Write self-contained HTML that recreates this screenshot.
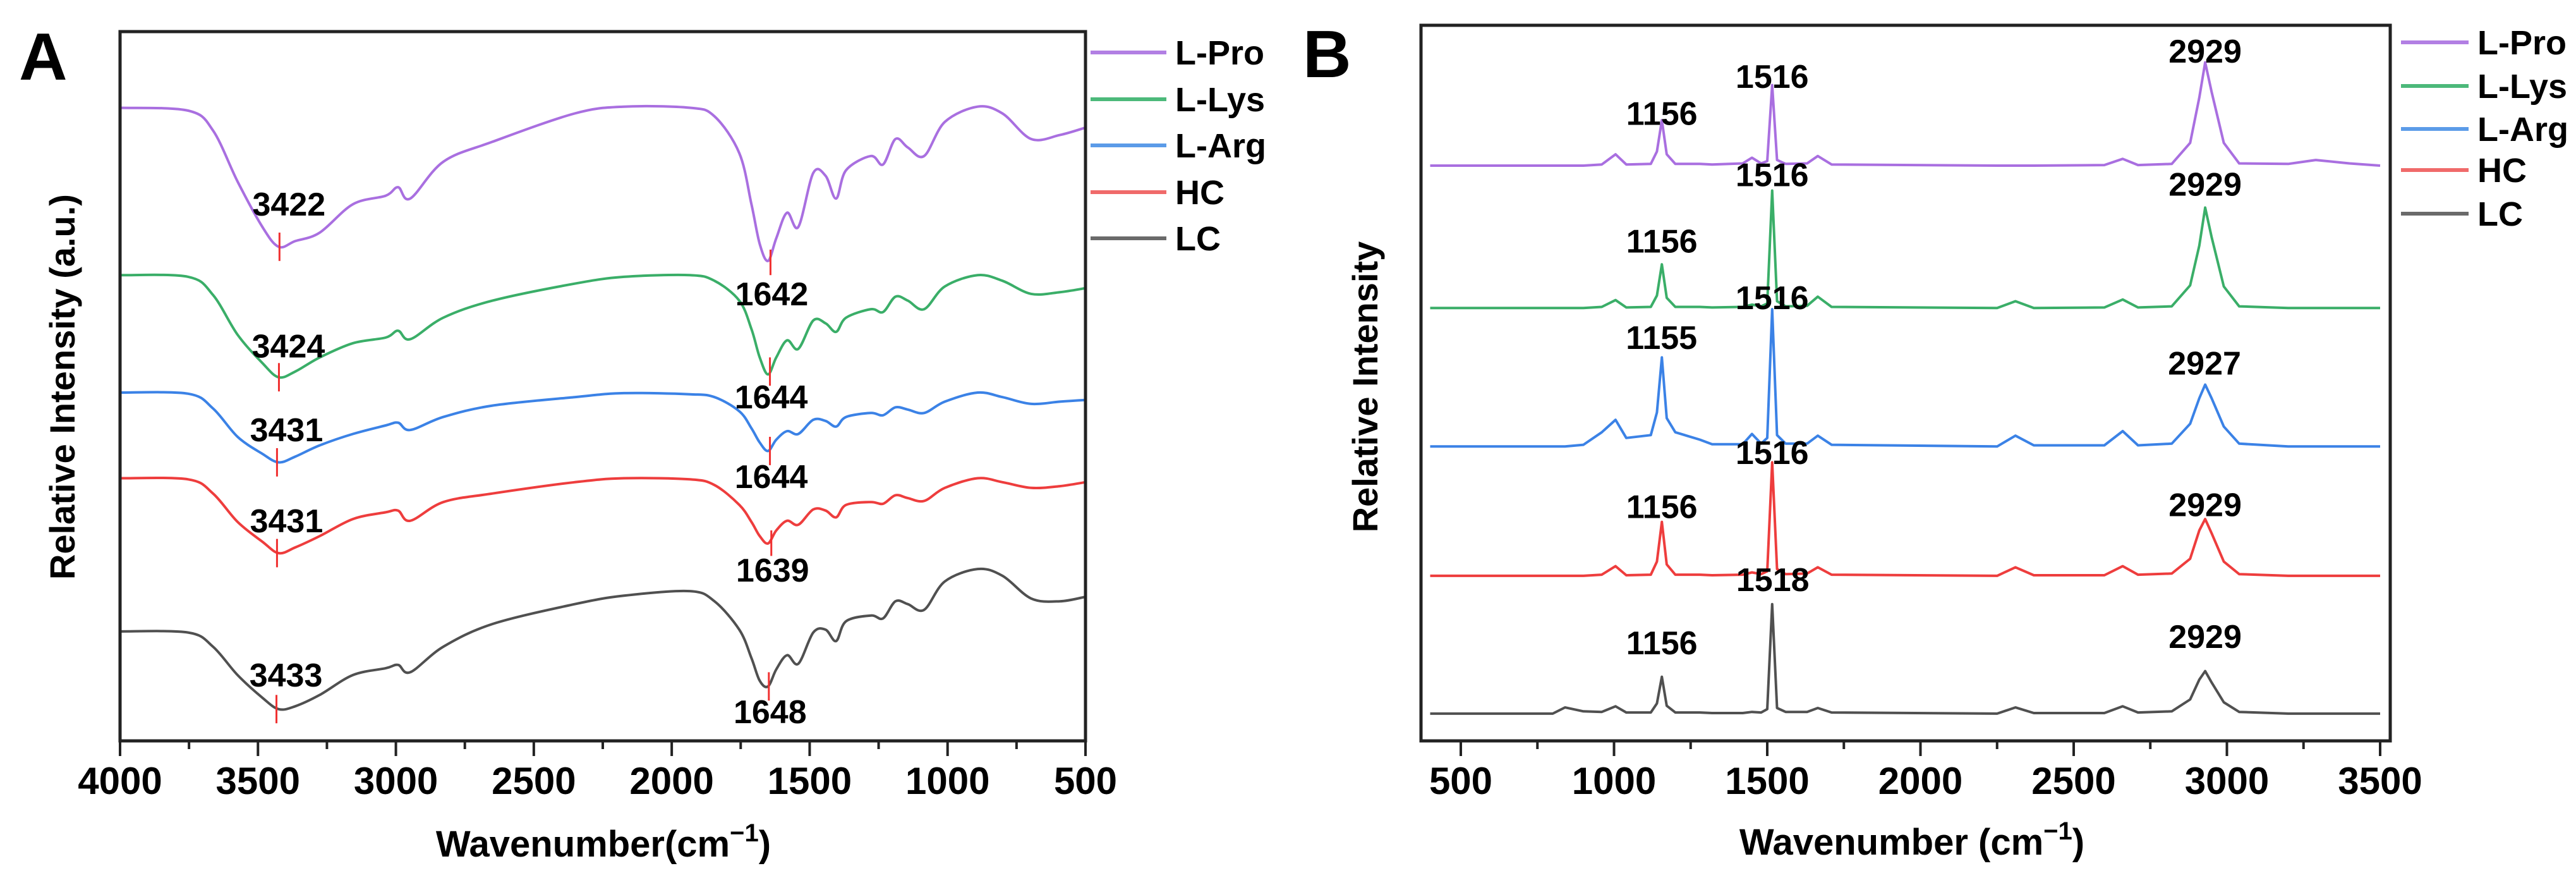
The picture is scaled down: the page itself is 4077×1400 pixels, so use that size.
<!DOCTYPE html>
<html><head><meta charset="utf-8">
<style>
html,body{margin:0;padding:0;background:#fff;}
svg{display:block;font-family:"Liberation Sans",Arial,sans-serif;}
</style></head>
<body>
<svg id="fig" width="4077" height="1400" viewBox="0 0 4077 1400" xmlns="http://www.w3.org/2000/svg">
</svg>
<script>
// ---------- Panel A data (FTIR) ----------
const seriesNames = ["L-Pro","L-Lys","L-Arg","HC","LC"];
const seriesKeys = ["l-pro","l-lys","l-arg","hc","lc"];
const seriesColors = ["#a96fe0","#3aae68","#3b82e6","#ee3d3d","#505050"];
const legendColors = ["#b27fe3","#4cb97a","#5b9be8","#f06a6a","#6a6a6a"];
const ftirWavenumbers = [4000,3753,3663,3574,3484,3425,3365,3276,3156,3037,2992,2948,2828,2650,2352,2173,1934,1845,1755,1711,1681,1651,1621,1582,1541,1487,1442,1404,1368,1278,1234,1189,1144,1085,1010,891,801,697,593,500];
const ftirLPro = [1120,1115,1080,990,910,875,885,900,950,965,980,960,1025,1060,1110,1122,1120,1105,1040,950,880,850,890,935,910,1005,1000,960,1010,1035,1020,1065,1050,1035,1095,1122,1110,1065,1072,1085];
const ftirLLys = [825,822,790,720,670,645,655,680,705,715,727,712,750,780,810,822,825,815,780,730,680,650,680,710,695,745,740,725,750,765,760,787,780,765,805,825,815,792,795,802];
const ftirLArg = [618,616,590,540,510,495,505,525,545,560,565,552,575,595,610,617,615,610,585,555,530,515,535,550,545,570,568,558,575,582,578,592,588,582,602,618,610,598,602,605];
const ftirHC = [467,465,440,390,355,335,345,365,395,407,410,392,425,440,460,467,465,455,420,390,365,352,375,392,385,412,410,398,420,425,422,437,432,427,450,467,460,450,453,460];
const ftirLC = [197,195,170,120,80,60,65,85,120,132,138,125,170,210,245,260,268,250,200,150,110,100,130,155,140,195,200,180,215,225,220,250,245,235,285,307,295,255,250,258];
const ftirPeakLow = [3422,3424,3431,3431,3433];
const ftirPeakHigh = [1642,1644,1644,1639,1648];
const ftirTicks = [4000,3500,3000,2500,2000,1500,1000,500];
// ---------- Panel B data (Raman) ----------
const ramanWavenumbers = [400,800,840,900,960,1005,1040,1120,1140,1156,1172,1200,1280,1320,1420,1450,1480,1500,1516,1532,1560,1630,1665,1710,2250,2310,2370,2600,2660,2710,2820,2880,2910,2929,2950,2990,3040,3200,3290,3400,3500];
const ramanBaselines = [1018,767,523,295,52];
const ramanLPro = [0,0,0,0,2,20,2,3,25,80,20,3,3,2,4,14,4,8,142,10,3,4,17,2,0,0,0,1,12,1,3,40,120,182,130,40,4,3,10,4,0];
const ramanLLys = [0,0,0,0,2,14,1,2,22,77,18,2,2,1,2,6,3,8,207,12,3,4,20,2,0,12,0,1,15,1,3,40,110,177,125,38,3,0,0,0,0];
const ramanLArg = [0,0,0,3,25,47,15,20,60,157,50,25,12,4,4,22,5,15,242,20,5,5,19,3,0,19,2,2,27,2,5,40,85,109,85,35,5,0,0,0,0];
const ramanHC = [0,0,0,0,2,17,1,2,25,95,20,2,2,1,2,6,3,8,200,12,3,4,15,2,0,15,1,1,17,2,4,30,80,100,75,25,3,0,0,0,0];
const ramanLC = [0,0,11,4,3,13,2,2,18,65,14,2,2,1,1,3,2,8,193,10,3,3,10,2,0,11,1,1,13,2,4,25,60,75,55,20,3,0,0,0,0];
const ramanLabelPeaks1 = [1156,1156,1155,1156,1156];
const ramanLabelPeaks2 = [1516,1516,1516,1516,1518];
const ramanLabelPeaks3 = [2929,2929,2927,2929,2929];
const ramanTicks = [500,1000,1500,2000,2500,3000,3500];

const NS="http://www.w3.org/2000/svg";
const svg=document.getElementById('fig');
function mk(tag,attrs,parent){const e=document.createElementNS(NS,tag);for(const k in attrs)e.setAttribute(k,attrs[k]);(parent||svg).appendChild(e);return e;}
function smoothPath(pts){
  let d='M'+pts[0][0].toFixed(1)+' '+pts[0][1].toFixed(1);
  for(let i=0;i<pts.length-1;i++){
    const p0=pts[i-1]||pts[i],p1=pts[i],p2=pts[i+1],p3=pts[i+2]||p2;
    const c1=[p1[0]+(p2[0]-p0[0])/6,p1[1]+(p2[1]-p0[1])/6];
    const c2=[p2[0]-(p3[0]-p1[0])/6,p2[1]-(p3[1]-p1[1])/6];
    d+=' C'+c1[0].toFixed(1)+' '+c1[1].toFixed(1)+' '+c2[0].toFixed(1)+' '+c2[1].toFixed(1)+' '+p2[0].toFixed(1)+' '+p2[1].toFixed(1);
  }
  return d;
}

// ---------- Panel A ----------
const A={x0:190,x1:1718,y0:50,y1:1172};
const xA=w=>A.x0+(4000-w)/3500*(A.x1-A.x0);
const yA=v=>(1310-v)*0.8974;
const gA=mk('g',{});


let t=mk('text',{x:30,y:126,'font-size':106,'font-weight':'bold'},gA);t.textContent='A';

const ftirSeries=[ftirLPro,ftirLLys,ftirLArg,ftirHC,ftirLC];
ftirSeries.forEach((vals,i)=>{
  const pts=vals.map((v,j)=>[xA(ftirWavenumbers[j]),yA(v)]);
  const p=mk('path',{d:smoothPath(pts),fill:'none',stroke:seriesColors[i],'stroke-width':4,'stroke-linejoin':'round'},gA);
  
  
});
// annotations A
const annA=[[352,360,340,410,460,937,518,935,440,485],[352,610,340,640,690,937,700,935,630,680],[343,758,337,790,840,937,840,935,770,820],[343,918,337,950,1000,937,1005,937,935,980],[338,1190,334,1225,1275,935,1255,933,1185,1235]];
annA.forEach((a,i)=>{
  const xl=xA(ftirPeakLow[i]), xh=xA(ftirPeakHigh[i]);
  let m=mk('line',{x1:xl,x2:xl,y1:a[3]*0.8974,y2:a[4]*0.8974,stroke:'#f03030','stroke-width':3},gA);
  
  m=mk('line',{x1:xh,x2:xh,y1:a[8]*0.8974,y2:a[9]*0.8974,stroke:'#f03030','stroke-width':3},gA);
  
  let tx=mk('text',{x:xl+15,y:a[1]*0.8974+18,'font-size':52,'font-weight':'bold','text-anchor':'middle'},gA);
  tx.textContent=ftirPeakLow[i];
  
  tx=mk('text',{x:xh+2,y:a[6]*0.8974+18,'font-size':52,'font-weight':'bold','text-anchor':'middle'},gA);
  tx.textContent=ftirPeakHigh[i];
  
});
let fr=mk('rect',{x:A.x0,y:A.y0,width:A.x1-A.x0,height:A.y1-A.y0,fill:'none',stroke:'#222','stroke-width':5},gA);

for(let w=4000;w>=500;w-=250){
  const major=(w%500===0);
  const l=mk('line',{x1:xA(w),x2:xA(w),y1:A.y1,y2:A.y1+(major?24:13),stroke:'#222','stroke-width':4},gA);
  
}
ftirTicks.forEach(w=>{
  const tl=mk('text',{x:xA(w),y:1256,'font-size':60,'font-weight':'bold','text-anchor':'middle'},gA);
  tl.textContent=w;
  
});
t=mk('text',{x:955,y:1355,'font-size':58,'font-weight':'bold','text-anchor':'middle'},gA);
t.innerHTML='Wavenumber(cm<tspan dy="-24" font-size="40">−1</tspan><tspan dy="24">)</tspan>';

t=mk('text',{x:0,y:0,'font-size':56,'font-weight':'bold','text-anchor':'middle',transform:'translate(118,612) rotate(-90)'},gA);
t.textContent='Relative Intensity (a.u.)';

const legY=[83,157,230,304,377];
seriesNames.forEach((n,i)=>{
  const g=mk('g',{},gA);
  
  mk('line',{x1:1726,x2:1846,y1:legY[i],y2:legY[i],stroke:legendColors[i],'stroke-width':6},g);
  const tx=mk('text',{x:1860,y:legY[i]+19,'font-size':54,'font-weight':'bold'},g);tx.textContent=n;
});

// ---------- Panel B ----------
const B={x0:2249,x1:3783,y0:40,y1:1172};
const xB=w=>2312+(w-500)*0.485;
const yB=v=>v*0.8974;
const ramanSeries=[ramanLPro,ramanLLys,ramanLArg,ramanHC,ramanLC];
const gB=mk('g',{});

t=mk('text',{x:2062,y:122,'font-size':106,'font-weight':'bold'},gB);t.textContent='B';

ramanSeries.forEach((vals,i)=>{
  const base=1310-ramanBaselines[i];
  const d=vals.map((v,j)=>(j?'L':'M')+xB(ramanWavenumbers[j]).toFixed(1)+' '+yB(base-v).toFixed(1)).join(' ');
  const p=mk('path',{d:d,fill:'none',stroke:seriesColors[i],'stroke-width':4,'stroke-linejoin':'round'},gB);
  
  
});
const labY=[[200,135,90],[425,308,325],[595,525,640],[893,798,890],[1133,1022,1122]];
[ramanLabelPeaks1,ramanLabelPeaks2,ramanLabelPeaks3].forEach((arr,k)=>{
  arr.forEach((pk,i)=>{
    const tx=mk('text',{x:xB(pk),y:yB(labY[i][k])+18,'font-size':52,'font-weight':'bold','text-anchor':'middle'},gB);
    tx.textContent=pk;
    
  });
});
fr=mk('rect',{x:B.x0,y:B.y0,width:B.x1-B.x0,height:B.y1-B.y0,fill:'none',stroke:'#222','stroke-width':5},gB);

for(let w=500;w<=3500;w+=250){
  const major=(w%500===0);
  const l=mk('line',{x1:xB(w),x2:xB(w),y1:B.y1,y2:B.y1+(major?24:13),stroke:'#222','stroke-width':4},gB);
  
}
ramanTicks.forEach(w=>{
  const tl=mk('text',{x:xB(w),y:1256,'font-size':60,'font-weight':'bold','text-anchor':'middle'},gB);
  tl.textContent=w;
  
});
t=mk('text',{x:3026,y:1352,'font-size':58,'font-weight':'bold','text-anchor':'middle'},gB);
t.innerHTML='Wavenumber (cm<tspan dy="-24" font-size="40">−1</tspan><tspan dy="24">)</tspan>';

t=mk('text',{x:0,y:0,'font-size':56,'font-weight':'bold','text-anchor':'middle',transform:'translate(2180,612) rotate(-90)'},gB);
t.textContent='Relative Intensity';

const legYB=[67,136,204,269,338];
seriesNames.forEach((n,i)=>{
  const g=mk('g',{},gB);
  
  mk('line',{x1:3800,x2:3907,y1:legYB[i],y2:legYB[i],stroke:legendColors[i],'stroke-width':6},g);
  const tx=mk('text',{x:3921,y:legYB[i]+19,'font-size':54,'font-weight':'bold'},g);tx.textContent=n;
});
</script>
</body></html>
